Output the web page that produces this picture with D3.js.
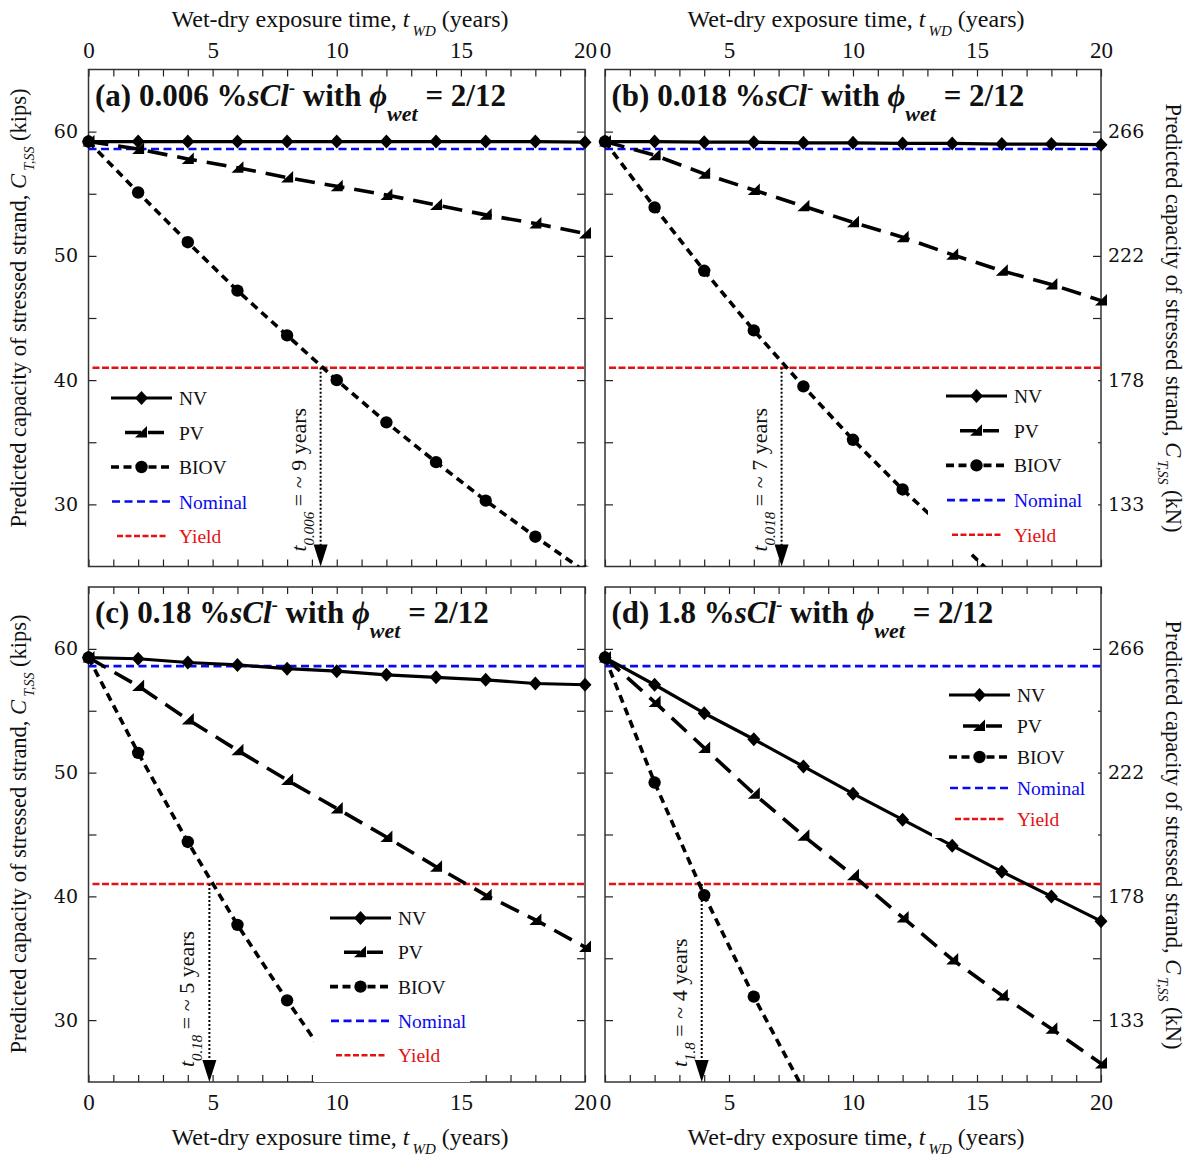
<!DOCTYPE html>
<html><head><meta charset="utf-8">
<script src="https://cdn.jsdelivr.net/npm/d3@7"></script>
<style>body{margin:0;background:#fff}svg{display:block}</style>
</head><body>
<svg id="chart" width="1188" height="1158"></svg>
<script>
// ---------------- DATA ----------------
const years = [0,2,4,6,8,10,12,14,16,18,20];
const nvA  = [59.2,59.2,59.2,59.2,59.2,59.2,59.2,59.2,59.2,59.2,59.15];
const pvA  = [59.2,58.6,57.8,57.1,56.3,55.6,54.9,54.1,53.3,52.6,51.8];
const bioA = [59.2,55.1,51.1,47.2,43.6,40.0,36.6,33.4,30.3,27.4,24.6];
const nvB  = [59.2,59.2,59.15,59.15,59.1,59.1,59.05,59.05,59.0,59.0,58.95];
const pvB  = [59.2,58.1,56.6,55.3,54.0,52.7,51.5,50.1,48.8,47.7,46.4];
const bioB = [59.2,53.9,48.8,44.0,39.5,35.2,31.2,27.5,23.6,null,null];
const nvC  = [59.3,59.2,58.9,58.7,58.4,58.2,57.9,57.7,57.5,57.2,57.1];
const pvC  = [59.3,57.0,54.3,51.8,49.4,47.1,44.8,42.4,40.1,38.1,35.9];
const bioC = [59.3,51.6,44.4,37.7,31.6,25.8,null,null,null,null,null];
const nvD  = [59.3,57.1,54.8,52.7,50.5,48.3,46.2,44.1,42.0,40.0,38.0];
const pvD  = [59.3,55.7,52.0,48.3,44.9,41.7,38.3,34.9,32.0,29.3,26.5];
const bioD = [59.3,49.2,40.1,31.9,24.4,null,null,null,null,null,null];
const nominalKips = 58.6;
const yieldKips = 41.0;
const panelLetters = ["a","b","c","d"];
const chlorides = ["0.006","0.018","0.18","1.8"];
const crossTimes = [9.35, 7.12, 4.87, 3.9];
const crossLabels = ["9","7","5","4"];
const xTickLabels = [0,5,10,15,20];
const xMinorTicks = d3.range(0,21,1);
const yTicks = [30,35,40,45,50,55,60];
const yLabelTicks = [30,40,50,60];
const yLabelsKN = ["133","178","222","266"];
const seriesNames = ["NV","PV","BIOV","Nominal","Yield"];
const panelData = [
  {nv:nvA, pv:pvA, bio:bioA},
  {nv:nvB, pv:pvB, bio:bioB},
  {nv:nvC, pv:pvC, bio:bioC},
  {nv:nvD, pv:pvD, bio:bioD}
];

// ---------------- LAYOUT ----------------
const SERIF = "'Liberation Serif','Times New Roman',Times,serif";
const NUMF = "'DejaVu Serif','Liberation Serif',serif";
const BLUE = "#0a0af0", RED = "#e41212";
const layout = [
  {x0:88.5,x1:585,y0:69.5,y1:566.5, top:true, left:true,  leg:{sx:111,sy:398,dy:34.5,box:[100,382,262,553]}},
  {x0:605,x1:1101,y0:69.5,y1:566.5, top:true, left:false, leg:{sx:946,sy:396,dy:34.7,box:[928,380,1098,553]}},
  {x0:88.5,x1:585,y0:587,y1:1082,  top:false,left:true,  leg:{sx:330,sy:918,dy:34.3,box:[314,902,470,1082]}},
  {x0:605,x1:1101,y0:587,y1:1082,  top:false,left:false, leg:{sx:949,sy:695,dy:31,box:[932,679,1098,838]}}
];

const svg = d3.select("#chart");
svg.append("rect").attr("width",1188).attr("height",1158).attr("fill","#fff");
const defs = svg.append("defs");

const diamond = "M0,-7L6.5,0L0,7L-6.5,0Z";
const tri = "M-6,5L6,5L6,-6.5Z";

const styles = {
  nv:  {dash:null,   w:3.2},
  pv:  {dash:"20,10",w:3.6},
  bio: {dash:"8,5.5",w:3.6}
};

function drawMarker(g, key, x, y){
  if(key==="nv") g.append("path").attr("d",diamond).attr("transform",`translate(${x},${y})`).attr("fill","#000");
  else if(key==="pv") g.append("path").attr("d",tri).attr("transform",`translate(${x},${y})`).attr("fill","#000");
  else g.append("circle").attr("cx",x).attr("cy",y).attr("r",6.2).attr("fill","#000");
}

function styleAxis(sel, font, size){
  sel.select(".domain").remove();
  sel.selectAll(".tick line").attr("stroke","#222").attr("stroke-width",1.2);
  sel.selectAll("text").attr("font-family",font).attr("font-size",size).attr("fill","#111");
  sel.attr("font-family",font).attr("font-size",size);
}

function xTitle(cx, y){
  const t = svg.append("text").attr("x",cx).attr("y",y).attr("text-anchor","middle")
    .attr("font-family",SERIF).attr("font-size",24).attr("fill","#111");
  t.append("tspan").text("Wet-dry exposure time, ");
  t.append("tspan").attr("font-style","italic").text("t");
  t.append("tspan").attr("font-style","italic").attr("font-size",15).attr("dy",9).attr("dx",3).text("WD");
  t.append("tspan").attr("dy",-9).text(" (years)");
}

function yTitle(cx, cy, rot, unit){
  const t = svg.append("text").attr("transform",`translate(${cx},${cy}) rotate(${rot})`)
    .attr("text-anchor","middle").attr("font-family",SERIF).attr("font-size",22.5).attr("fill","#111");
  t.append("tspan").text("Predicted capacity of stressed strand, ");
  t.append("tspan").attr("font-style","italic").text("C");
  t.append("tspan").attr("font-style","italic").attr("font-size",14).attr("dy",8).attr("dx",3).text("T,SS");
  t.append("tspan").attr("dy",-8).text(" (" + unit + ")");
}

layout.forEach((p, i) => {
  const d = panelData[i];
  const xs = d3.scaleLinear().domain([0,20]).range([p.x0,p.x1]);
  const ys = d3.scaleLinear().domain([25,65]).range([p.y1,p.y0]);
  const g = svg.append("g");

  const cid = "clip"+i;
  defs.append("clipPath").attr("id",cid).append("rect")
    .attr("x",p.x0-25).attr("y",p.y0).attr("width",p.x1-p.x0+50).attr("height",p.y1-p.y0);

  // ticks (inward)
  const tb = g.append("g").attr("transform",`translate(0,${p.y1})`)
    .call(d3.axisBottom(xs).tickValues(xMinorTicks).tickSize(-7).tickFormat(""));
  styleAxis(tb, SERIF, 22);
  const tt = g.append("g").attr("transform",`translate(0,${p.y0})`)
    .call(d3.axisTop(xs).tickValues(xMinorTicks).tickSize(-7).tickFormat(""));
  styleAxis(tt, SERIF, 22);
  const tl = g.append("g").attr("transform",`translate(${p.x0},0)`)
    .call(d3.axisLeft(ys).tickValues(yTicks).tickSize(-8).tickFormat(""));
  styleAxis(tl, NUMF, 19);
  const tr = g.append("g").attr("transform",`translate(${p.x1},0)`)
    .call(d3.axisRight(ys).tickValues(yTicks).tickSize(-8).tickFormat(""));
  styleAxis(tr, NUMF, 19);

  // tick labels
  if(p.top){
    const a = g.append("g").attr("transform",`translate(0,${p.y0})`)
      .call(d3.axisTop(xs).tickValues(xTickLabels).tickSize(0).tickPadding(11.5).tickFormat(d3.format("d")));
    styleAxis(a, SERIF, 23);
  } else {
    const a = g.append("g").attr("transform",`translate(0,${p.y1})`)
      .call(d3.axisBottom(xs).tickValues(xTickLabels).tickSize(0).tickPadding(12).tickFormat(d3.format("d")));
    styleAxis(a, SERIF, 23);
  }
  if(p.left){
    const a = g.append("g").attr("transform",`translate(${p.x0},0)`)
      .call(d3.axisLeft(ys).tickValues(yLabelTicks).tickSize(0).tickPadding(10.5).tickFormat(d3.format("d")));
    styleAxis(a, NUMF, 19);
  } else {
    const a = g.append("g").attr("transform",`translate(${p.x1},0)`)
      .call(d3.axisRight(ys).tickValues(yLabelTicks).tickSize(0).tickPadding(7).tickFormat((v,k)=>yLabelsKN[k]));
    styleAxis(a, NUMF, 19);
  }

  // frame
  g.append("rect").attr("x",p.x0).attr("y",p.y0).attr("width",p.x1-p.x0).attr("height",p.y1-p.y0)
    .attr("fill","none").attr("stroke","#333").attr("stroke-width",1.5);

  // reference lines
  g.append("line").attr("x1",xs(0)).attr("x2",xs(20)).attr("y1",ys(nominalKips)).attr("y2",ys(nominalKips))
    .attr("stroke",BLUE).attr("stroke-width",2.7).attr("stroke-dasharray","8,4.5");
  g.append("line").attr("x1",xs(0)+4).attr("x2",xs(20)).attr("y1",ys(yieldKips)).attr("y2",ys(yieldKips))
    .attr("stroke",RED).attr("stroke-width",2.6).attr("stroke-dasharray","7,2.5");

  // series
  const cg = g.append("g").attr("clip-path",`url(#${cid})`);
  const line = d3.line().defined(v=>v.v!=null).x(v=>xs(v.t)).y(v=>ys(v.v));
  ["bio","pv","nv"].forEach(k=>{
    const pts = years.map((t,j)=>({t:t, v:d[k][j]}));
    cg.append("path").datum(pts).attr("d",line).attr("fill","none").attr("stroke","#000")
      .attr("stroke-width",styles[k].w).attr("stroke-dasharray",styles[k].dash).attr("stroke-linejoin","round");
  });
  ["bio","pv","nv"].forEach(k=>{
    years.forEach((t,j)=>{ if(d[k][j]!=null) drawMarker(cg,k,xs(t),ys(d[k][j])); });
  });

  // arrow annotation
  const ax = xs(crossTimes[i]);
  g.append("line").attr("x1",ax).attr("x2",ax).attr("y1",ys(yieldKips)).attr("y2",p.y1-20)
    .attr("stroke","#000").attr("stroke-width",2).attr("stroke-dasharray","2,2");
  g.append("path").attr("d",`M${ax-7},${p.y1-22}L${ax+7},${p.y1-22}L${ax},${p.y1}Z`).attr("fill","#000");
  const at = g.append("text").attr("transform",`translate(${ax-15},${p.y1-15}) rotate(-90)`)
    .attr("font-family",SERIF).attr("font-size",22).attr("fill","#111");
  at.append("tspan").attr("font-style","italic").text("t");
  at.append("tspan").attr("font-style","italic").attr("font-size",15).attr("dy",8).text(chlorides[i]);
  at.append("tspan").attr("dy",-8).text(" = ~ " + crossLabels[i] + " years");

  // legend
  const L = p.leg;
  const lg = g.append("g");
  lg.append("rect").attr("x",L.box[0]).attr("y",L.box[1]).attr("width",L.box[2]-L.box[0]).attr("height",L.box[3]-L.box[1]).attr("fill","#fff");
  const sx = L.sx, tx = L.sx + 68;
  seriesNames.forEach((name,k)=>{
    const yy = L.sy + k*L.dy;
    if(k===0){
      lg.append("line").attr("x1",sx).attr("x2",sx+61).attr("y1",yy).attr("y2",yy).attr("stroke","#000").attr("stroke-width",3.2);
      drawMarker(lg,"nv",sx+30.5,yy);
    } else if(k===1){
      lg.append("line").attr("x1",sx+14).attr("x2",sx+60).attr("y1",yy).attr("y2",yy).attr("stroke","#000").attr("stroke-width",3.6).attr("stroke-dasharray","16,7");
      drawMarker(lg,"pv",sx+30,yy);
    } else if(k===2){
      lg.append("line").attr("x1",sx).attr("x2",sx+62).attr("y1",yy).attr("y2",yy).attr("stroke","#000").attr("stroke-width",3.6).attr("stroke-dasharray","8,4.5");
      drawMarker(lg,"bio",sx+30.5,yy);
    } else if(k===3){
      lg.append("line").attr("x1",sx+1).attr("x2",sx+62).attr("y1",yy).attr("y2",yy).attr("stroke",BLUE).attr("stroke-width",2.7).attr("stroke-dasharray","8,4.5");
    } else {
      lg.append("line").attr("x1",sx+6).attr("x2",sx+57).attr("y1",yy).attr("y2",yy).attr("stroke",RED).attr("stroke-width",2.6).attr("stroke-dasharray","6,2.5");
    }
    lg.append("text").attr("x",tx).attr("y",yy+7).attr("font-family",SERIF).attr("font-size",19.5)
      .attr("fill", k===3?BLUE:(k===4?RED:"#111")).text(name);
  });

  // panel title
  const t = g.append("text").attr("x",p.x0+6.5).attr("y",p.y0+36).attr("font-family",SERIF)
    .attr("font-weight","bold").attr("font-size",31).attr("fill","#111");
  t.append("tspan").text(`(${panelLetters[i]}) ${chlorides[i]} %`);
  t.append("tspan").attr("font-style","italic").text("sCl");
  t.append("tspan").attr("font-size",19).attr("dy",-12).text("-");
  t.append("tspan").attr("dy",12).text(" with ");
  t.append("tspan").attr("font-style","italic").text("\u03D5");
  t.append("tspan").attr("font-style","italic").attr("font-size",22).attr("dy",15).text("wet");
  t.append("tspan").attr("dy",-15).text(" = 2/12");
});

// axis titles
xTitle(340, 27);
xTitle(856, 27);
xTitle(340, 1145);
xTitle(856, 1145);
yTitle(26, 308, -90, "kips");
yTitle(26, 834, -90, "kips");
yTitle(1166, 318, 90, "kN");
yTitle(1166, 835, 90, "kN");
</script>
</body></html>
